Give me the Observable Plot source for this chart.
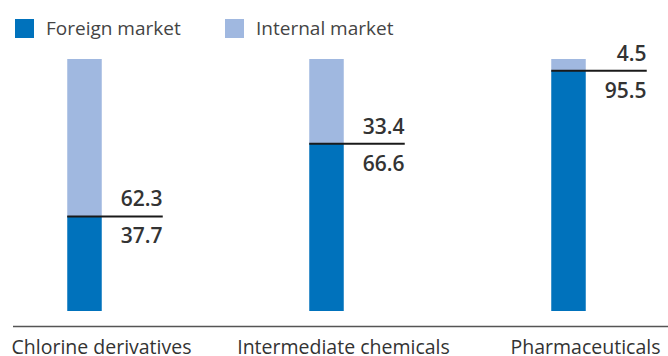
<!DOCTYPE html>
<html>
<head>
<meta charset="utf-8">
<script src="https://cdn.jsdelivr.net/npm/d3@7"></script>
<script src="https://cdn.jsdelivr.net/npm/@observablehq/plot@0.6"></script>
<style>
  html, body { margin: 0; padding: 0; background: #fff; }
  body { width: 668px; height: 356px; overflow: hidden; font-family: "Open Sans", sans-serif; }
  #legend { height: 50px; position: relative; }
  .sw { position: absolute; top: 19px; width: 19px; height: 19px; }
  .lt { position: absolute; top: 14px; font-size: 19px; color: #444; line-height: 28px; white-space: nowrap; }
  svg { display: block; }
</style>
</head>
<body>
<div id="legend"></div>
<div id="chart"></div>
<script>
const categories = ["Chlorine derivatives", "Intermediate chemicals", "Pharmaceuticals"];
const foreign = [37.7, 66.6, 95.5];
const internal = [62.3, 33.4, 4.5];
const seriesNames = ["Foreign market", "Internal market"];
const seriesColors = ["#0072bc", "#a0b8e0"];

// legend
const legend = document.getElementById("legend");
const legendPos = [[15, 46], [225, 256]];
seriesNames.forEach((name, i) => {
  const sw = document.createElement("div");
  sw.className = "sw";
  sw.style.left = legendPos[i][0] + "px";
  sw.style.background = seriesColors[i];
  legend.appendChild(sw);
  const t = document.createElement("div");
  t.className = "lt";
  t.style.left = legendPos[i][1] + "px";
  t.textContent = name;
  legend.appendChild(t);
});

const rows = [];
categories.forEach((c, i) => {
  rows.push({cat: c, series: seriesNames[0], value: foreign[i]});
  rows.push({cat: c, series: seriesNames[1], value: internal[i]});
});
const splits = categories.map((c, i) => ({cat: c, f: foreign[i], n: internal[i]}));

const step = 242.5;
const first = 100;
const chart = Plot.plot({
  width: 668,
  height: 306,
  marginTop: 9,
  marginBottom: 45,
  marginLeft: 13,
  marginRight: 0,
  style: {fontFamily: "'Open Sans', sans-serif", overflow: "visible"},
  x: {domain: categories, range: [first - step / 2, first + step * 2.5], padding: 0, label: null},
  y: {domain: [0, 100], axis: null},
  color: {domain: seriesNames, range: seriesColors},
  marks: [
    Plot.barY(rows, {
      x: "cat", y: "value", fill: "series",
      insetLeft: 87.25, insetRight: step - 87.25 - 35,
      style: {filter: "drop-shadow(1.5px 1.5px 1.5px rgba(0,0,0,0.3))"}
    }),
    Plot.tickY(splits, {
      x: "cat", y: "f", stroke: "#1a1a1a", strokeWidth: 2,
      insetLeft: 87.25, insetRight: step - 87.25 - 96
    }),
    Plot.text(splits, {
      x: "cat", y: "f", text: d => d.n.toFixed(1), textAnchor: "end", lineAnchor: "bottom",
      dx: 61, dy: -10, fontSize: 21, fontWeight: 600, fill: "#333"
    }),
    Plot.text(splits, {
      x: "cat", y: "f", text: d => d.f.toFixed(1), textAnchor: "end", lineAnchor: "top",
      dx: 61, dy: 12, fontSize: 21, fontWeight: 600, fill: "#333"
    }),
    Plot.ruleY([0], {dy: 15, stroke: "#555", strokeWidth: 1.5}),
    Plot.axisX({tickSize: 0, tickPadding: 0, dy: 29, fontSize: 19.5, fill: "#333", label: null})
  ]
});
document.getElementById("chart").appendChild(chart);
</script>
</body>
</html>
